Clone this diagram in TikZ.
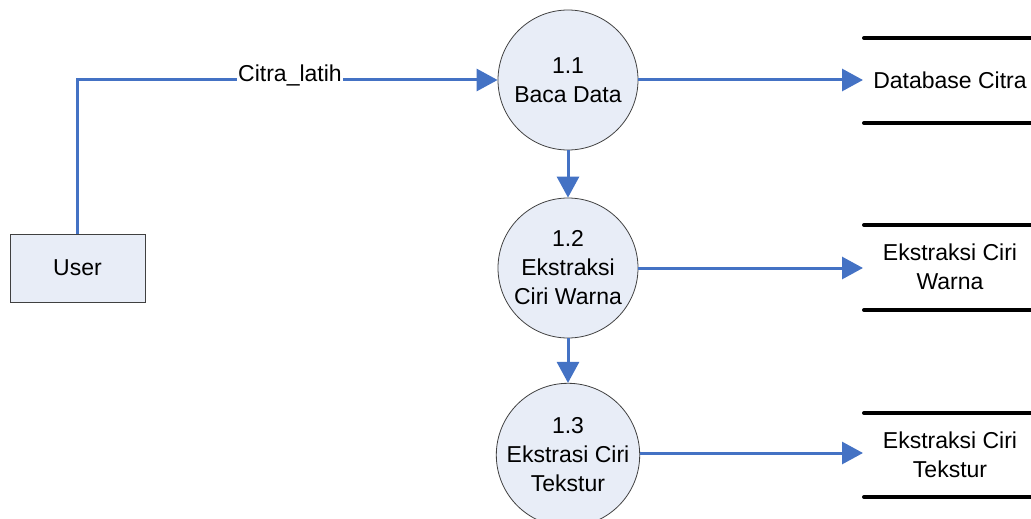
\documentclass[tikz,border=0pt]{standalone}
\usepackage{fontspec}
\setmainfont{Liberation Sans}
\usetikzlibrary{arrows.meta}
\definecolor{flowblue}{HTML}{4472C4}
\definecolor{procfill}{HTML}{E8EDF7}
\definecolor{edgegray}{HTML}{404040}
\begin{document}
\begin{tikzpicture}[x=1pt,y=-1pt,
  every node/.style={font=\fontsize{23}{29}\selectfont, align=center, text=black},
  proc/.style={circle, draw=edgegray, line width=0.8pt, fill=procfill, minimum size=140pt, inner sep=0pt},
  entity/.style={rectangle, draw=edgegray, line width=0.8pt, fill=procfill, minimum width=135pt, minimum height=68pt},
  storeline/.style={line width=4pt, line cap=round, black},
  flow/.style={line width=3pt, flowblue, -{Triangle[length=21pt,width=22pt]}},
  txt/.style={inner sep=1pt}
]
\useasboundingbox (0,0) rectangle (1031,519);

% external entity
\node[entity] (user) at (77.5,268) {User};

% processes
\node[proc] (p1) at (568,80) {1.1\\Baca Data};
\node[proc] (p2) at (568,268) {1.2\\Ekstraksi\\Ciri Warna};
\node[proc] (p3) at (568,455) {1.3\\Ekstrasi Ciri\\Tekstur};

% data stores
\draw[storeline] (864,38) -- (1040,38);
\draw[storeline] (864,123) -- (1040,123);
\node[txt] (s1) at (950,80) {Database Citra};
\coordinate (s1in) at (863,80);

\draw[storeline] (864,225) -- (1040,225);
\draw[storeline] (864,310) -- (1040,310);
\node[txt] (s2) at (950,267) {Ekstraksi Ciri\\Warna};
\coordinate (s2in) at (863,268);

\draw[storeline] (864,413) -- (1040,413);
\draw[storeline] (864,497) -- (1040,497);
\node[txt] (s3) at (950,455) {Ekstraksi Ciri\\Tekstur};
\coordinate (s3in) at (863,453);

% data flows
\draw[flow] (user.north) |- (p1.west);
\node[fill=white, inner sep=1pt] (lbl) at (290,75) {Citra\_latih};
\draw[flow] (p1.south) -- (p2.north);
\draw[flow] (p2.south) -- (p3.north);
\draw[flow] (p1.east) -- (s1in);
\draw[flow] (p2.east) -- (s2in);
\draw[flow] (p3.east |- s3in) -- (s3in);
\end{tikzpicture}
\end{document}
